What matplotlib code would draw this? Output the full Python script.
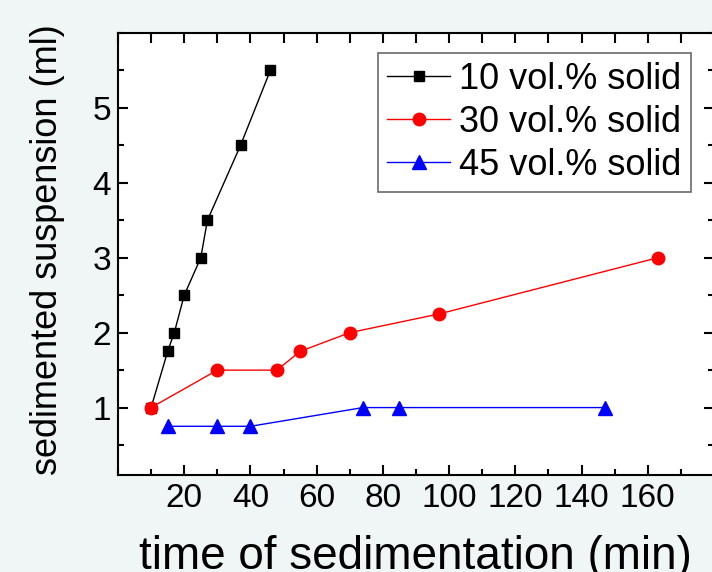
import matplotlib
matplotlib.use("Agg")
import matplotlib.pyplot as plt
from matplotlib.ticker import MultipleLocator, FixedLocator

plt.rcParams['font.family'] = ['Liberation Sans', 'DejaVu Sans']

# Data
t10 = [10, 15, 17, 20, 25, 27, 37, 46]
v10 = [1.0, 1.75, 2.0, 2.5, 3.0, 3.5, 4.5, 5.5]
t30 = [10, 30, 48, 55, 70, 97, 163]
v30 = [1.0, 1.5, 1.5, 1.75, 2.0, 2.25, 3.0]
t45 = [15, 30, 40, 74, 85, 147]
v45 = [0.75, 0.75, 0.75, 1.0, 1.0, 1.0]
labels = ["10 vol.% solid", "30 vol.% solid", "45 vol.% solid"]
xticks = [20, 40, 60, 80, 100, 120, 140, 160]
yticks = [1, 2, 3, 4, 5]

W, H = 712, 572
fig = plt.figure(figsize=(W / 100, H / 100), dpi=100)
fig.patch.set_facecolor('#f0f5f5')

L, R, T, B = 118, 714, 33, 475
ax = fig.add_axes([L / W, (H - B) / H, (R - L) / W, (B - T) / H])
ax.set_facecolor('white')

ax.plot(t10, v10, color='black', lw=1.0, marker='s', ms=7.5, mfc='black', mec='black', label=labels[0], zorder=3)
ax.plot(t30, v30, color='red', lw=1.0, marker='o', ms=9, mfc='red', mec='red', label=labels[1], zorder=3)
ax.plot(t45, v45, color='blue', lw=1.0, marker='^', ms=10.5, mfc='blue', mec='blue', label=labels[2], zorder=3)

ax.set_xlim(0, 180)
ax.set_ylim(0.1, 6)
ax.xaxis.set_major_locator(FixedLocator(xticks))
ax.xaxis.set_minor_locator(MultipleLocator(10))
ax.yaxis.set_major_locator(FixedLocator(yticks))
ax.yaxis.set_minor_locator(MultipleLocator(0.5))

for s in ax.spines.values():
    s.set_linewidth(1.5)

ax.tick_params(axis='both', which='major', direction='in', length=7.5, width=1.5, top=False, right=True)
ax.tick_params(axis='both', which='minor', direction='in', length=4.0, width=1.5, top=False, right=True)
ax.tick_params(axis='x', which='major', labelsize=24, pad=6)
ax.tick_params(axis='y', which='major', labelsize=24, pad=5)

# top ticks: all the same length
axt = ax.twiny()
axt.set_xlim(ax.get_xlim())
axt.xaxis.set_major_locator(MultipleLocator(10))
axt.tick_params(axis='x', which='major', direction='in', length=7.5, width=1.5, labeltop=False)
for s in axt.spines.values():
    s.set_visible(False)

ax.set_xlabel("time of sedimentation (min)", fontsize=33, va='top')
ax.xaxis.set_label_coords((415 - L) / (R - L), -(535 - B) / (B - T))
ax.set_ylabel("sedimented suspension (ml)", fontsize=26, va='center')
ax.yaxis.set_label_coords(-(L - 48) / (R - L), 0.51)

leg = ax.legend(loc='upper left', bbox_to_anchor=((378 - L) / (R - L), 1 - (53 - T) / (B - T)),
                fontsize=26, frameon=True, fancybox=False, borderpad=0.25,
                handlelength=1.75, handletextpad=0.25, labelspacing=0.22, borderaxespad=0,
                markerscale=1.0)
leg.get_frame().set_edgecolor('#444444')
leg.get_frame().set_linewidth(1.2)

fig.savefig('out.png', dpi=100, facecolor=fig.get_facecolor())
